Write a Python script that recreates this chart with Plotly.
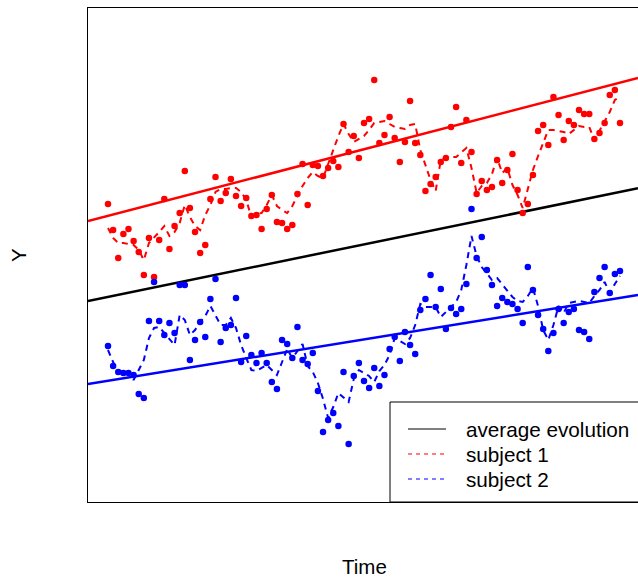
import plotly.graph_objects as go

# Time points 0..100
time = list(range(101))

# Subject 1 (red) observations
s1_obs = [298, 272, 244, 268, 273, 261, 250, 227, 264, 225, 262, 303, 253, 276, 289, 331, 294, 270, 249, 257,
          303, 325, 301, 309, 323, 306, 296, 304, 286, 287, 273, 293, 307, 280, 279, 273, 277, 308, 338, 297,
          337, 336, 326, 334, 341, 335, 378, 350, 366, 344, 379, 383, 422, 359, 367, 385, 364, 340, 360, 401,
          359, 347, 311, 318, 325, 340, 344, 375, 395, 339, 382, 350, 308, 321, 312, 315, 342, 319, 332, 348,
          312, 289, 298, 327, 371, 377, 357, 405, 387, 362, 381, 377, 392, 388, 388, 363, 369, 379, 407, 412, 379]
# Subject 1 latent trajectory (dashed)
s1_traj = [274, 264, 259, 259, 258, 257, 252, 242, 259, 264, 270, 276, 266, 270, 279, 297, 285, 276, 272, 287,
           297, 310, 313, 313, 314, 314, 310, 302, 285, 288, 289, 297, 307, 296, 292, 289, 296, 306, 316, 324,
           330, 326, 324, 338, 353, 366, 378, 368, 360, 363, 366, 372, 379, 380, 381, 378, 375, 374, 373, 377,
           378, 352, 337, 322, 311, 342, 344, 345, 345, 350, 354, 334, 309, 316, 319, 328, 344, 329, 334, 317,
           307, 294, 314, 332, 346, 360, 372, 372, 371, 370, 368, 372, 376, 375, 375, 362, 371, 380, 390, 402, 405]

# Subject 2 (blue) observations
s2_obs = [156, 136, 130, 129, 129, 127, 108, 104, 181, 220, 181, 167, 179, 169, 217, 217, 142, 162, 180, 165,
          203, 223, 160, 174, 177, 204, 140, 166, 147, 139, 149, 139, 120, 113, 162, 158, 144, 175, 142, 138,
          149, 111, 70, 82, 89, 76, 130, 58, 126, 139, 121, 114, 134, 116, 127, 153, 165, 141, 170, 157,
          148, 192, 203, 227, 195, 213, 173, 194, 188, 193, 218, 293, 244, 265, 232, 217, 196, 204, 200, 198,
          193, 179, 235, 212, 187, 173, 151, 169, 193, 179, 190, 193, 172, 170, 163, 210, 224, 235, 209, 228, 231]
# Subject 2 latent trajectory (dashed)
s2_traj = [152, 140, 130, 131, 131, 122, 132, 142, 164, 174, 175, 169, 162, 157, 187, 182, 167, 172, 180, 186,
           196, 186, 177, 177, 184, 174, 157, 144, 132, 131, 134, 137, 132, 127, 140, 153, 144, 151, 158, 136,
           130, 119, 103, 84, 95, 109, 104, 100, 123, 132, 129, 126, 120, 131, 137, 147, 164, 161, 158, 164,
           177, 198, 195, 195, 195, 185, 190, 194, 200, 212, 237, 266, 246, 235, 228, 222, 224, 218, 212, 205,
           201, 200, 206, 214, 196, 172, 162, 177, 196, 189, 199, 200, 201, 200, 199, 206, 212, 220, 209, 218, 226]

# Linear evolutions: intercept (at time 0) and slope
line_names = ["average evolution", "subject 1", "subject 2"]
line_intercepts = [205.1, 286.2, 121.2]
line_slopes = [1.05, 1.331, 0.829]
line_colors = ["black", "#FF0000", "#0000FF"]

x_range = [-3.906, 103.52]
y_range = [0, 494]

fig = go.Figure()

# straight lines spanning the plot
for b0, b1, c in zip(line_intercepts, line_slopes, line_colors):
    fig.add_trace(go.Scatter(x=x_range, y=[b0 + b1 * x_range[0], b0 + b1 * x_range[1]],
                             mode="lines", line=dict(color=c, width=2.5), showlegend=False,
                             hoverinfo="skip"))

for traj, obs, c in [(s1_traj, s1_obs, "#FF0000"), (s2_traj, s2_obs, "#0000FF")]:
    fig.add_trace(go.Scatter(x=time, y=traj, mode="lines",
                             line=dict(color=c, width=2, dash="6px,5px"), showlegend=False))
    fig.add_trace(go.Scatter(x=time, y=obs, mode="markers",
                             marker=dict(color=c, size=6.5, line=dict(width=0)), showlegend=False))

def px_x(px):
    return (px - 88) / 550.0

def px_y(py):
    return (502 - py) / 494.0

FONT = "Liberation Sans, Arial"
shapes = [dict(type="rect", xref="paper", yref="paper", x0=px_x(390), x1=px_x(645),
               y0=px_y(502), y1=px_y(402), line=dict(color="black", width=1), fillcolor="white",
               layer="above")]
annotations = []
legend_rows = [429, 454, 479]
legend_dash = ["solid", "4px,4px", "4px,4px"]
for name, c, row, d in zip(line_names, line_colors, legend_rows, legend_dash):
    shapes.append(dict(type="line", xref="paper", yref="paper", x0=px_x(408), x1=px_x(446),
                       y0=px_y(row), y1=px_y(row), line=dict(color=c, width=1, dash=d), layer="above"))
    annotations.append(dict(text=name, xref="paper", yref="paper", x=px_x(464), y=px_y(row),
                            xanchor="left", yanchor="middle", showarrow=False,
                            font=dict(size=20.7, color="black", family=FONT)))

annotations.append(dict(text="Time", xref="paper", yref="paper", x=px_x(364), y=px_y(566),
                        xanchor="center", yanchor="middle", showarrow=False,
                        font=dict(size=20.5, color="black", family=FONT)))
annotations.append(dict(text="Y", xref="paper", yref="paper", x=px_x(18), y=px_y(255),
                        xanchor="center", yanchor="middle", showarrow=False, textangle=-90,
                        font=dict(size=20.5, color="black", family=FONT)))

fig.update_layout(
    width=638, height=578,
    margin=dict(l=88, r=0, t=8, b=76),
    plot_bgcolor="white", paper_bgcolor="white",
    shapes=shapes, annotations=annotations,
    showlegend=False,
)
fig.update_xaxes(range=x_range, showgrid=False, zeroline=False, showticklabels=False, ticks="",
                 showline=True, linecolor="black", linewidth=1, mirror=True)
fig.update_yaxes(range=y_range, showgrid=False, zeroline=False, showticklabels=False, ticks="",
                 showline=True, linecolor="black", linewidth=1, mirror=False)

fig.write_html("out.html", config={"displayModeBar": False},
               post_script="document.body.style.margin='0px';document.body.style.overflow='hidden';")
